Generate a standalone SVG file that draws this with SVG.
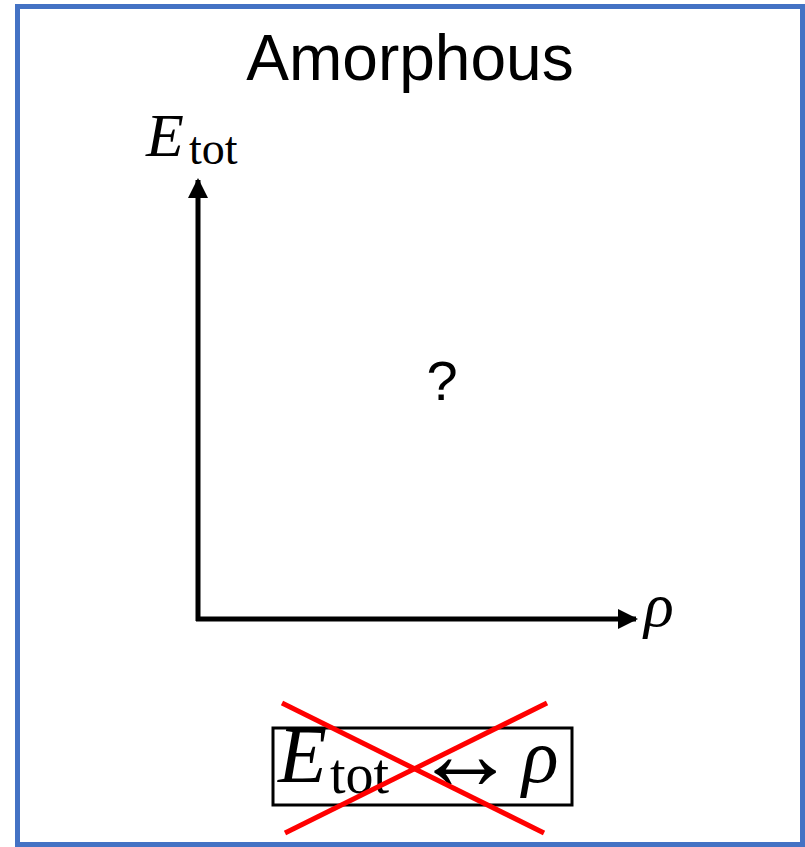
<svg xmlns="http://www.w3.org/2000/svg" width="805" height="847" viewBox="0 0 805 847">
<defs>
<style>
.ax{stroke:#000;stroke-width:5;fill:none}
.math{font-family:"Liberation Serif","DejaVu Serif",serif;fill:#000}
.it{font-style:italic}
.sans{font-family:"Liberation Sans",Arial,sans-serif;fill:#000}
.cross{stroke:#FF0000;stroke-width:5}
</style>
<marker id="ah" viewBox="0 0 10 10" refX="9" refY="5" markerWidth="4" markerHeight="4" markerUnits="strokeWidth" orient="auto">
<path d="M0,0 L10,5 L0,10 z" fill="#000"/>
</marker>
</defs>
<rect x="17.5" y="6.5" width="785" height="838" fill="#fff" stroke="#4472C4" stroke-width="5"/>
<g id="title"><text class="sans" x="410" y="80" font-size="64" text-anchor="middle">Amorphous</text></g>
<g id="connectors">
<line class="ax" x1="198" y1="621" x2="198" y2="180" marker-end="url(#ah)"/>
<line class="ax" x1="196" y1="619" x2="636" y2="619" marker-end="url(#ah)"/>
</g>
<g id="ylabel">
<text class="math it" x="146" y="156" font-size="62">E</text>
<text class="math" x="189" y="164" font-size="46">tot</text>
</g>
<g id="xlabel"><text class="math it" x="644" y="626" font-size="62">ρ</text></g>
<g id="question"><text class="sans" x="442" y="400" font-size="56" text-anchor="middle">?</text></g>
<g id="relation">
<rect x="273" y="728" width="299" height="77" fill="#fff" stroke="#000" stroke-width="3"/>
<text class="math it" x="278" y="782" font-size="80">E</text>
<text class="math" x="330" y="793" font-size="56">tot</text>
<text class="math" x="413" y="789" font-size="104">↔</text>
<text class="math it" x="522" y="782" font-size="76">ρ</text>
<line class="cross" x1="282" y1="703" x2="544" y2="833"/>
<line class="cross" x1="547" y1="703" x2="285" y2="833"/>
</g>
</svg>
